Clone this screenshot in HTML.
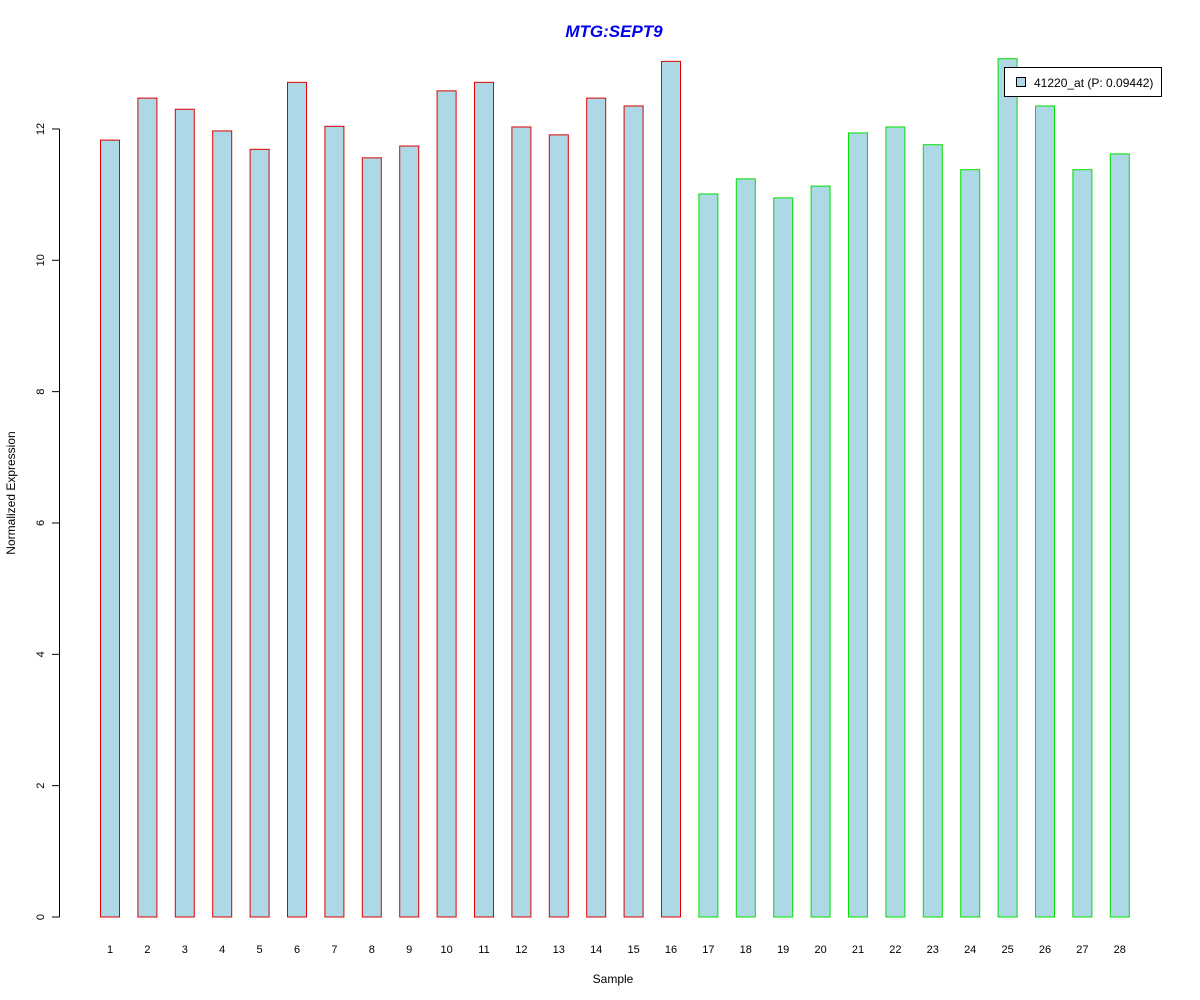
<!DOCTYPE html>
<html><head><meta charset="utf-8"><style>body{margin:0;background:#fff}svg{display:block}</style></head>
<body>
<svg id="chart" width="1200" height="1000" xmlns="http://www.w3.org/2000/svg" font-family="Liberation Sans, sans-serif">
<rect width="1200" height="1000" fill="#fff"/>
<text x="614" y="37" text-anchor="middle" font-size="17" font-weight="bold" font-style="italic" fill="#0000ee">MTG:SEPT9</text>
<text x="613" y="983" text-anchor="middle" font-size="12">Sample</text>
<text transform="translate(15,493) rotate(-90)" text-anchor="middle" font-size="12">Normalized Expression</text>
<g id="bars"></g><g id="yaxis"></g><g id="xlabels"></g>
<g>
<rect x="1004.5" y="67.5" width="157" height="29" fill="#fff" stroke="#000"/>
<rect x="1016.5" y="77.5" width="9" height="9" fill="#add8e6" stroke="#000"/>
<text x="1034" y="87" font-size="12">41220_at (P: 0.09442)</text>
</g>
</svg>
<script>
const categories = ["1","2","3","4","5","6","7","8","9","10","11","12","13","14","15","16","17","18","19","20","21","22","23","24","25","26","27","28"];
const values = [11.83,12.47,12.30,11.97,11.69,12.71,12.04,11.56,11.74,12.58,12.71,12.03,11.91,12.47,12.35,13.03,11.01,11.24,10.95,11.13,11.94,12.03,11.76,11.38,13.07,12.35,11.38,11.62];
const groups = ["a","a","a","a","a","a","a","a","a","a","a","a","a","a","a","a","b","b","b","b","b","b","b","b","b","b","b","b"];
const yTicks = [0,2,4,6,8,10,12];
const NS="http://www.w3.org/2000/svg";
const y = v => 917 - v*65.67;
const x = i => 100 + i*37.4;
const bw = 19;
const bars=document.getElementById('bars'), xl=document.getElementById('xlabels'), ya=document.getElementById('yaxis');
values.forEach((v,i)=>{
  const r=document.createElementNS(NS,'rect');
  
  
  r.setAttribute('x',x(i)+0.5);r.setAttribute('y',y(v));
  r.setAttribute('width',bw);r.setAttribute('height',y(0)-y(v));
  r.setAttribute('fill','#add8e6');r.setAttribute('stroke',groups[i]==='a'?'#e00000':'#00e000');
  bars.appendChild(r);
  const t=document.createElementNS(NS,'text');
  
  
  t.setAttribute('x',x(i)+bw/2+0.5);t.setAttribute('y',953);
  t.setAttribute('text-anchor','middle');t.setAttribute('font-size','11');
  t.textContent=categories[i];xl.appendChild(t);
});
const ax=document.createElementNS(NS,'line');


ax.setAttribute('x1',59.5);ax.setAttribute('x2',59.5);ax.setAttribute('y1',y(yTicks[0]));ax.setAttribute('y2',y(yTicks[yTicks.length-1]));ax.setAttribute('stroke','#000');
ya.appendChild(ax);
yTicks.forEach(v=>{
  const l=document.createElementNS(NS,'line');
  
  
  l.setAttribute('x1',52);l.setAttribute('x2',59.5);l.setAttribute('y1',y(v));l.setAttribute('y2',y(v));l.setAttribute('stroke','#000');
  ya.appendChild(l);
  const t=document.createElementNS(NS,'text');
  
  
  t.setAttribute('transform','translate(44,'+y(v)+') rotate(-90)');
  t.setAttribute('text-anchor','middle');t.setAttribute('font-size','11');
  t.textContent=v;ya.appendChild(t);
});
</script>
</body></html>
